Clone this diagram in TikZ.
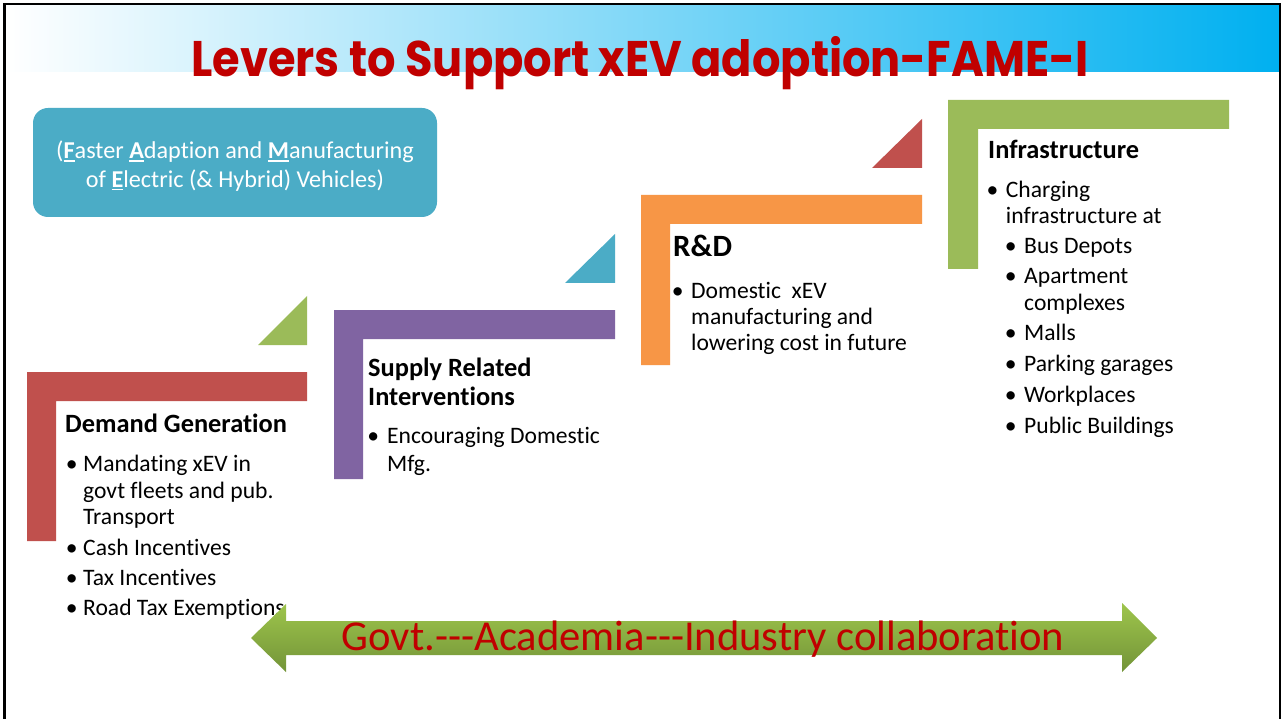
\documentclass[tikz,border=0pt]{standalone}
\usepackage{fontspec}
\setmainfont{Carlito}[Ligatures={NoCommon,NoRare}]
\newfontfamily\titlefont{Poppins}
\definecolor{titlered}{HTML}{C00000}
\definecolor{skyc}{HTML}{00B0F0}
\definecolor{lred}{HTML}{C0504D}
\definecolor{lgreen}{HTML}{9BBB59}
\definecolor{lpurple}{HTML}{8064A2}
\definecolor{lcyan}{HTML}{4BACC6}
\definecolor{lorange}{HTML}{F79646}
\definecolor{arrtop}{HTML}{9EC54C}
\definecolor{arrbot}{HTML}{739438}
% bullet hung to the left of the item text
\newcommand\bitem[1][7.6]{\llap{\textbullet\hspace{#1pt}}}
% bold, underlined initial letter
\newcommand\ubf[1]{\setbox0\hbox{\bfseries #1}\rlap{\rule[-3.2pt]{\wd0}{1.8pt}}\box0}
\begin{document}
\begin{tikzpicture}[x=1pt,y=-1pt,
  txt/.style={anchor=base west, inner sep=0pt, font=\fontsize{23.6}{26}\selectfont},
  head/.style={anchor=base west, inner sep=0pt, font=\fontsize{26.4}{30}\selectfont\bfseries},
  boxtxt/.style={anchor=base, inner sep=0pt, text=white, font=\fontsize{24.2}{29}\selectfont},
]
\useasboundingbox (0,0) rectangle (1282,719);
\fill[white] (0,0) rectangle (1282,719);

% title banner and frame
\shade[left color=white, right color=skyc] (6.5,6) rectangle (1279,72);
\draw[line width=2.5pt] (4.7,730) -- (4.7,4.2) -- (1280,4.2) -- (1280,730);
\node[anchor=base, inner sep=0pt, text=titlered,
      font=\titlefont\bfseries\fontsize{50}{60}\selectfont] (title) at (640,77)
  {\scalebox{0.894}[1]{Levers to Support xEV adoption-FAME-I}};

% FAME box
\node[fill=lcyan, rounded corners=15pt, minimum width=404pt, minimum height=109pt,
      inner sep=0pt] (fame) at (235,162.5) {};
\node[boxtxt] (fame1) at (235,159)
  {(\ubf{F}aster \ubf{A}daption and \ubf{M}anufacturing};
\node[boxtxt] (fame2) at (235,187.3)
  {of \ubf{E}lectric (\& Hybrid) Vehicles)};

% step brackets
\fill[lred] (27,372) -- (307,372) -- (307,401) -- (56,401) -- (56,541) -- (27,541) -- cycle;
\fill[lgreen] (307,296) -- (307,345) -- (258,345) -- cycle;
\fill[lpurple] (334,310) -- (615,310) -- (615,339) -- (363,339) -- (363,479) -- (334,479) -- cycle;
\fill[lcyan] (615,234) -- (615,283) -- (565,283) -- cycle;
\fill[lorange] (641,195) -- (922,195) -- (922,224) -- (670,224) -- (670,365) -- (641,365) -- cycle;
\fill[lred] (922,119) -- (922,168) -- (872,168) -- cycle;
\fill[lgreen] (948,100) -- (1229,100) -- (1229,129) -- (978,129) -- (978,269) -- (948,269) -- cycle;

% Demand Generation
\node[head] (dgh) at (65,432.7) {Demand Generation};
\node[txt] (dg1) at (83,471.5) {\bitem[5.6]Mandating xEV in};
\node[txt] (dg2) at (83,498.5) {govt fleets and pub.};
\node[txt] (dg3) at (83,524) {Transport};
\node[txt] (dg4) at (83,555) {\bitem[5.6]Cash Incentives};
\node[txt] (dg5) at (83,585) {\bitem[5.6]Tax Incentives};
\node[txt] (dg6) at (83,615.5) {\bitem[5.6]Road Tax Exemptions};

% Supply Related Interventions
\node[head] (srh1) at (368,376.7) {Supply Related};
\node[head] (srh2) at (368,405) {Interventions};
\node[txt] (sr1) at (387,443.3) {\bitem[8]Encouraging Domestic};
\node[txt] (sr2) at (387,471.7) {Mfg.};

% R&D
\node[head, font=\fontsize{31}{36}\selectfont\bfseries] (rdh) at (673,256.7) {R\&D};
\node[txt] (rd1) at (691,298.3) {\bitem Domestic\ \ xEV};
\node[txt] (rd2) at (691,324) {manufacturing and};
\node[txt] (rd3) at (691,350.7) {lowering cost in future};

% Infrastructure
\node[head] (inh) at (988,158.3) {Infrastructure};
\node[txt] (in1) at (1005.7,197.3) {\bitem Charging};
\node[txt] (in2) at (1005.7,223.3) {infrastructure at};
\node[txt] (in3) at (1024,253.3) {\bitem Bus Depots};
\node[txt] (in4) at (1024,283.3) {\bitem Apartment};
\node[txt] (in5) at (1024,310.7) {complexes};
\node[txt] (in6) at (1024,340.7) {\bitem Malls};
\node[txt] (in7) at (1024,371.7) {\bitem Parking garages};
\node[txt] (in8) at (1024,402.7) {\bitem Workplaces};
\node[txt] (in9) at (1024,433.3) {\bitem Public Buildings};

% collaboration double arrow
\shade[top color=arrtop, bottom color=arrbot]
  (251,638) -- (286,604) -- (286,621) -- (1122,621) -- (1122,603) -- (1157,638)
  -- (1122,672) -- (1122,655) -- (286,655) -- (286,672) -- cycle;
\node[anchor=base, inner sep=0pt, text=titlered, font=\fontsize{42.6}{50}\selectfont]
  (collab) at (703,650)
  {Govt.\mbox{-}\mbox{-}\mbox{-}Academia\mbox{-}\mbox{-}\mbox{-}Industry collaboration};
\end{tikzpicture}
\end{document}
